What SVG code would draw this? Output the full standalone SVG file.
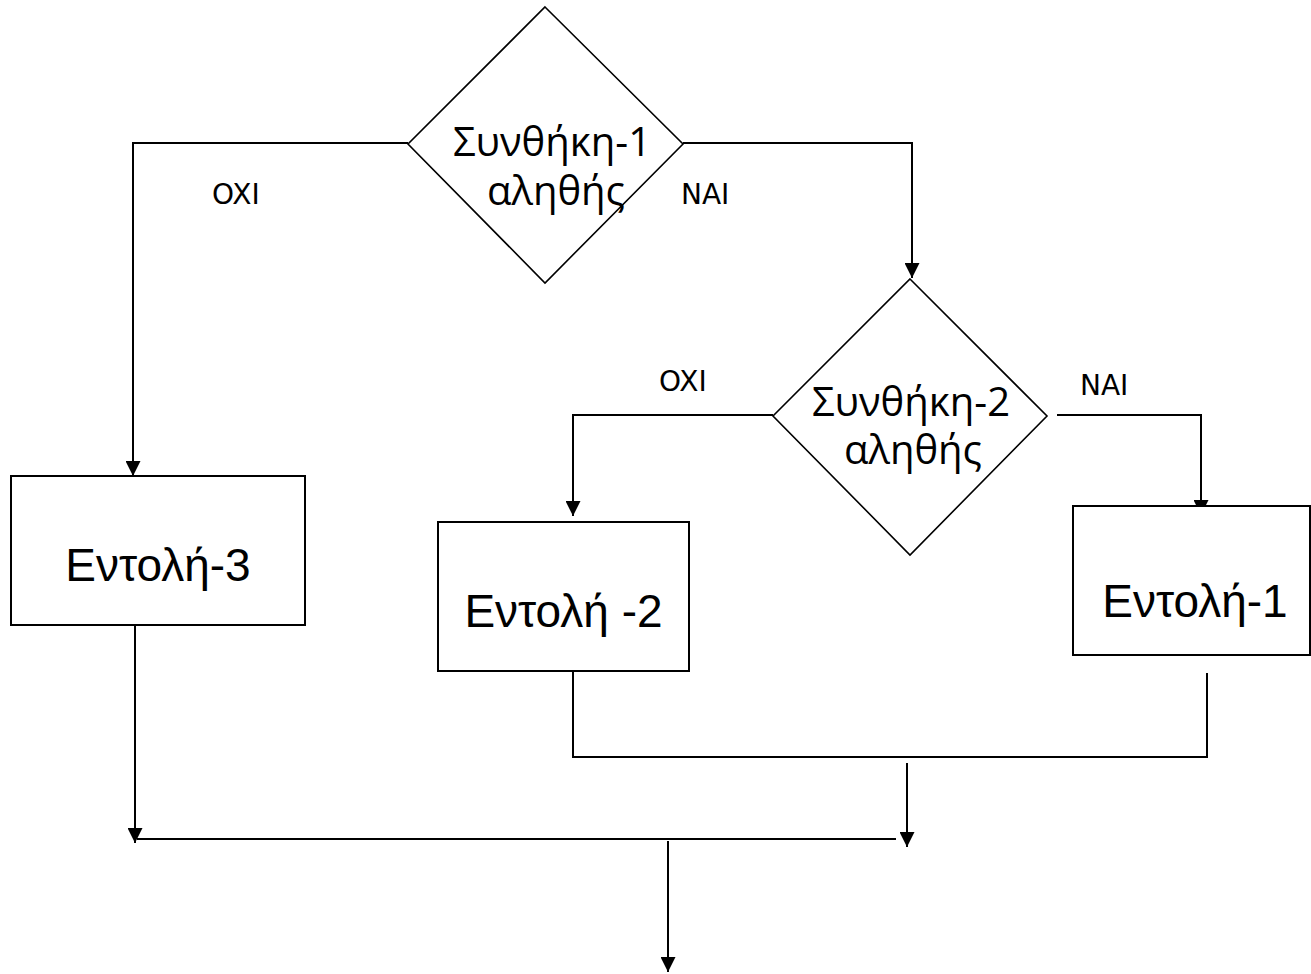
<svg xmlns="http://www.w3.org/2000/svg" width="1311" height="974" viewBox="0 0 1311 974">
  <defs>
    <marker id="arrow" markerUnits="userSpaceOnUse" markerWidth="15" markerHeight="15" refX="15" refY="7.5" orient="auto">
      <path d="M0,0 L15,7.5 L0,15 z" fill="#000"/>
    </marker>
    <style>
      .shape { fill: #fff; stroke: #000; stroke-width: 2; }
      .dia { fill: #fff; stroke: #000; stroke-width: 1.6; }
      .conn { fill: none; stroke: #000; stroke-width: 2; }
      .arr { marker-end: url(#arrow); }
      .cond { font-family: "Open Sans", "Noto Sans", sans-serif; font-size: 40px; fill: #000; text-anchor: middle; }
      .cmd { font-family: "Liberation Sans", Arial, sans-serif; font-size: 46px; fill: #000; text-anchor: middle; }
      .lbl { font-family: "DejaVu Sans", Verdana, sans-serif; font-size: 28px; fill: #000; }
    </style>
  </defs>
  <rect width="1311" height="974" fill="#fff"/>

  <g id="connectors">
    <polyline class="conn arr" points="408,143 133,143 133,476"/>
    <polyline class="conn arr" points="683,143 912,143 912,278"/>
    <polyline class="conn arr" points="773,415 573,415 573,516"/>
    <polyline class="conn arr" points="1057,415 1201,415 1201,515"/>
    <polyline class="conn arr" points="135,626 135,843"/>
    <polyline class="conn" points="573,671 573,757 1207,757 1207,673"/>
    <polyline class="conn arr" points="907,763 907,847"/>
    <line class="conn" x1="137" y1="839" x2="896" y2="839"/>
    <polyline class="conn arr" points="668,841 668,972"/>
    <text class="lbl" x="212" y="204">OXI</text>
    <text class="lbl" x="681" y="204">NAI</text>
    <text class="lbl" x="659" y="391">OXI</text>
    <text class="lbl" x="1080" y="395">NAI</text>
  </g>

  <g id="cond1">
    <polygon class="dia" points="545,7 683,144 545,283 408,144"/>
    <text class="cond" x="552" y="156">Συνθήκη-1</text>
    <text class="cond" x="556" y="205">αληθής</text>
  </g>

  <g id="cond2">
    <polygon class="dia" points="910,279 1047,416 910,555 773,416"/>
    <text class="cond" x="911" y="416">Συνθήκη-2</text>
    <text class="cond" x="913" y="464">αληθής</text>
  </g>

  <g id="cmd3">
    <rect class="shape" x="11" y="476" width="294" height="149"/>
    <text class="cmd" x="158" y="581">Εντολή-3</text>
  </g>

  <g id="cmd2">
    <rect class="shape" x="438" y="522" width="251" height="149"/>
    <text class="cmd" x="563.5" y="627">Εντολή -2</text>
  </g>

  <g id="cmd1">
    <rect class="shape" x="1073" y="506" width="237" height="149"/>
    <text class="cmd" x="1195" y="617">Εντολή-1</text>
  </g>
</svg>
